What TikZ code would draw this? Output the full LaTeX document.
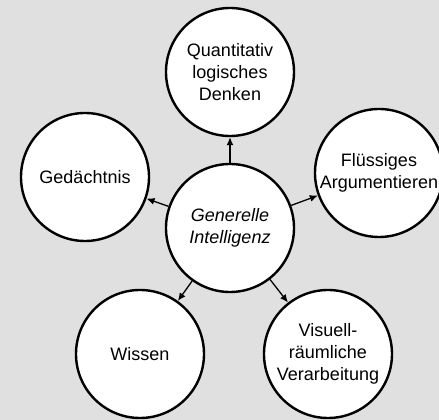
\documentclass[tikz,border=0pt]{standalone}
\usepackage{fontspec}
\setmainfont{Liberation Sans}
\usetikzlibrary{arrows.meta,backgrounds}
\definecolor{bggray}{RGB}{224,224,224}
\tikzset{
     factor/.style={circle, draw, fill=white, line width=2.4pt, minimum size=128pt,
                    inner sep=0pt, align=center, font=\fontsize{18}{22}\selectfont},
     gfactor/.style={factor, font=\fontsize{18}{22}\selectfont\itshape},
     load/.style={-{Latex[length=8pt,width=7pt]}, line width=1.3pt},
}
\def\ux{1pt}
\def\uy{1pt}

\begin{document}
\begin{tikzpicture}[x=\ux,y=\uy]
		\fill[bggray] (0,0) rectangle (439,420);
		\useasboundingbox (0,0) rectangle (439,420);

		\node[gfactor] (g) at (230,192) {Generelle\\Intelligenz};
		\node[factor] (quant) at (230,348) {Quantitativ\\logisches\\Denken};
		\node[factor] (gedaechtnis) at (85,243) {Ged\"achtnis};
		\node[factor] (fluessig) at (379,247) {Fl\"ussiges\\Argumentieren};
		\node[factor] (wissen) at (140,66) {Wissen};
		\node[factor] (visuell) at (328,66) {Visuell-\\r\"aumliche\\Verarbeitung};

		\foreach \f in {quant,gedaechtnis,fluessig,wissen,visuell}{
			\draw[load] (g) -- (\f);
		}
\end{tikzpicture}
\end{document}
